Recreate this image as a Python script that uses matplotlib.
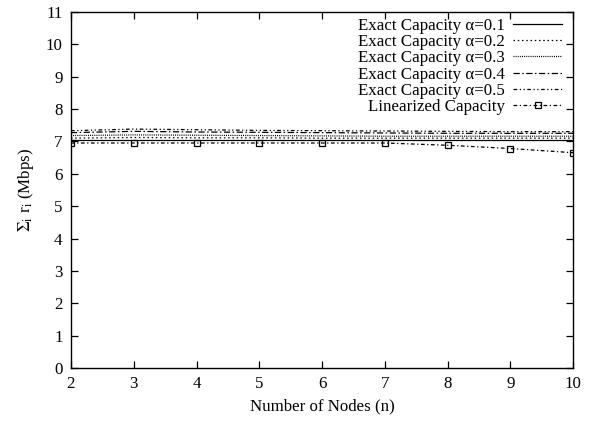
import matplotlib
matplotlib.use("Agg")
import matplotlib.pyplot as plt

plt.rcParams['font.family'] = ['Liberation Serif', 'DejaVu Serif']
plt.rcParams['mathtext.fontset'] = 'stix'
plt.rcParams['font.size'] = 12.2

nodes = [2, 3, 4, 5, 6, 7, 8, 9, 10]

exact_a01 = [7.03, 7.03, 7.03, 7.03, 7.03, 7.03, 7.03, 7.03, 7.03]
exact_a02 = [7.10, 7.12, 7.11, 7.11, 7.10, 7.10, 7.10, 7.10, 7.10]
exact_a03 = [7.18, 7.20, 7.19, 7.18, 7.17, 7.16, 7.16, 7.16, 7.16]
exact_a04 = [7.27, 7.31, 7.29, 7.28, 7.27, 7.26, 7.25, 7.25, 7.25]
exact_a05 = [7.33, 7.38, 7.36, 7.34, 7.33, 7.32, 7.31, 7.30, 7.30]
linearized = [6.95, 6.95, 6.95, 6.95, 6.95, 6.95, 6.88, 6.78, 6.65]

series_labels = [
    "Exact Capacity \u03b1=0.1",
    "Exact Capacity \u03b1=0.2",
    "Exact Capacity \u03b1=0.3",
    "Exact Capacity \u03b1=0.4",
    "Exact Capacity \u03b1=0.5",
    "Linearized Capacity",
]

fig = plt.figure(figsize=(5.91, 4.24), dpi=100)
ax = fig.add_axes([0.120, 0.132, 0.850, 0.840])

lw = 0.9
ax.plot(nodes, exact_a01, color='black', lw=lw, linestyle='-', label=series_labels[0])
ax.plot(nodes, exact_a02, color='black', lw=lw, linestyle=(0, (1.2, 2.2)), label=series_labels[1])
ax.plot(nodes, exact_a03, color='black', lw=lw, linestyle=(0, (0.8, 0.9)), label=series_labels[2])
ax.plot(nodes, exact_a04, color='black', lw=lw, linestyle=(0, (5, 2, 1.2, 2)), label=series_labels[3])
ax.plot(nodes, exact_a05, color='black', lw=lw, linestyle=(0, (3, 2, 1, 2, 1, 2)), label=series_labels[4])
ax.plot(nodes, linearized, color='black', lw=lw, linestyle=(0, (3, 2, 1, 2)),
        marker='s', markersize=5, markerfacecolor='none', markeredgewidth=0.9,
        label=series_labels[5])

ax.set_xlim(2, 10)
ax.set_ylim(0, 11)
ax.set_xticks(nodes)
ax.set_yticks(range(0, 12))
ax.tick_params(direction='in', length=5, width=0.9, top=True, right=True, pad=6)
for s in ax.spines.values():
    s.set_linewidth(1.0)

ax.set_xlabel("Number of Nodes (n)", labelpad=4)
ax.set_ylabel(r"$\Sigma_{\rm i}$ r$_{\rm i}$ (Mbps)", labelpad=7)

ax.legend(loc='upper right', bbox_to_anchor=(0.988, 0.998), frameon=False,
          markerfirst=False, handlelength=2.9, handletextpad=0.5,
          labelspacing=0.02, borderaxespad=0.0, borderpad=0.3, numpoints=1)

fig.savefig("out.png", dpi=100)
